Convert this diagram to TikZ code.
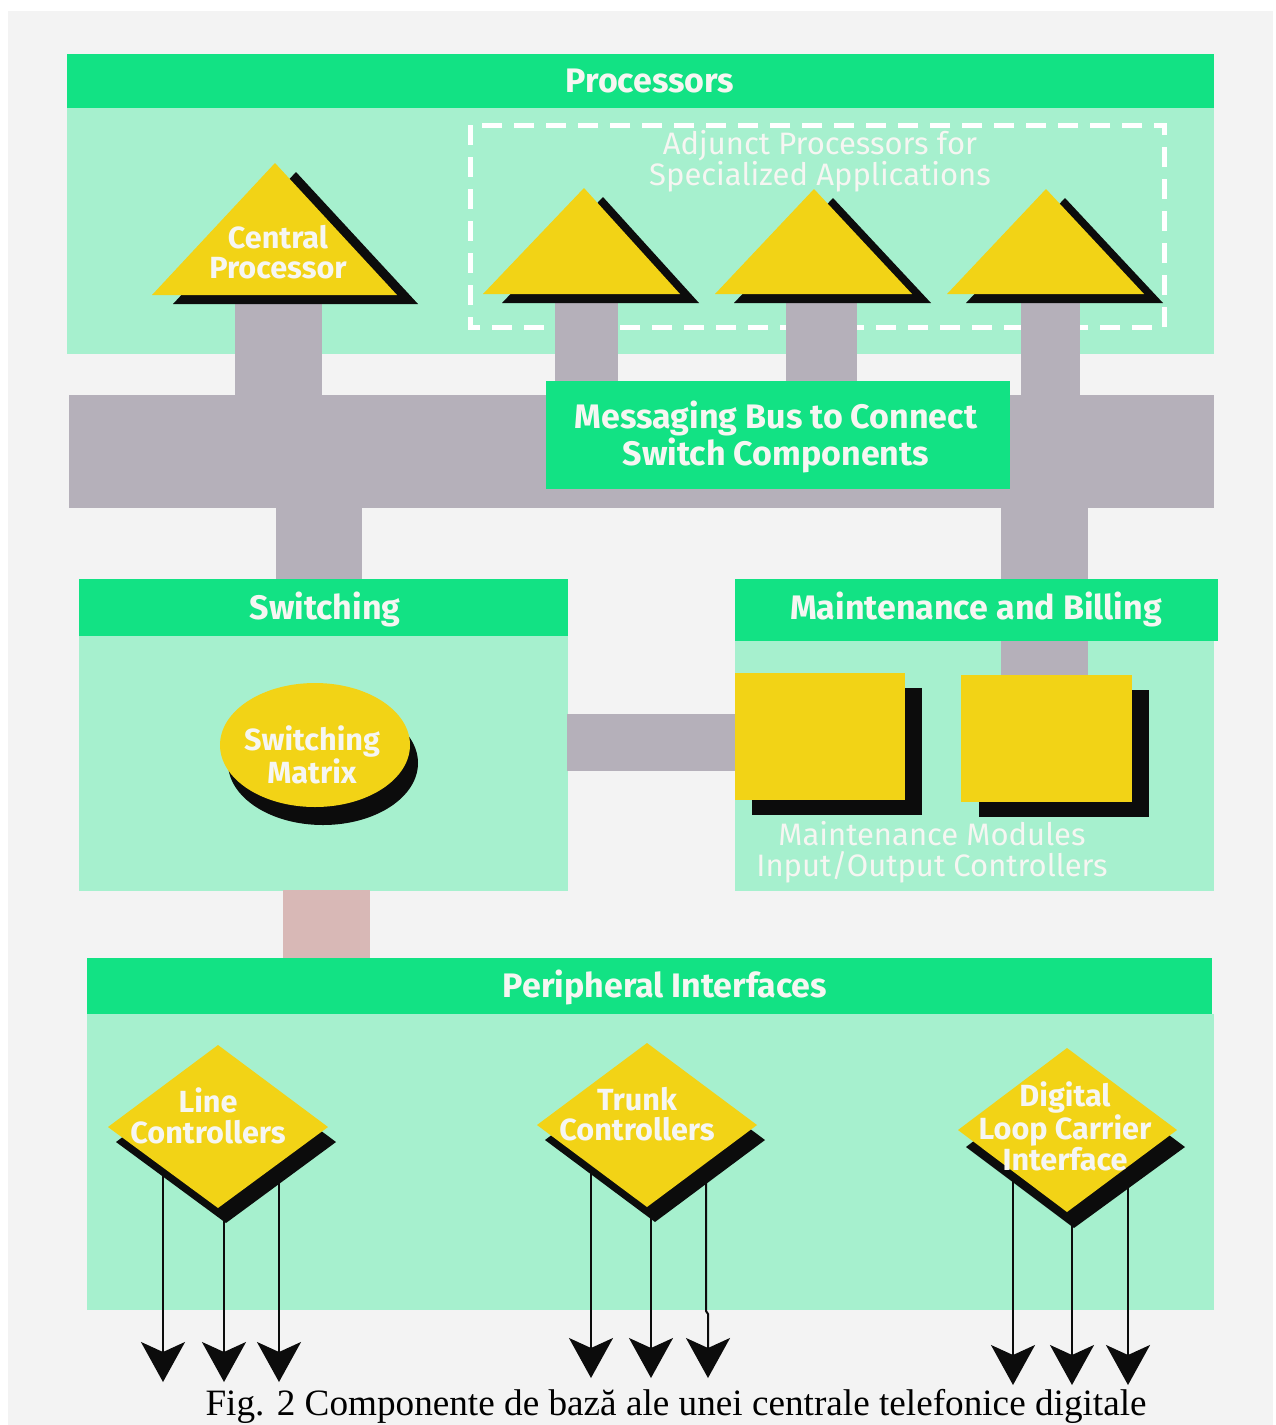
\documentclass[tikz,border=0pt]{standalone}
\usepackage{fontspec}
\setmainfont{Liberation Serif}
\newfontfamily\labfont{Fira Sans}
\usetikzlibrary{arrows.meta}
\definecolor{hdr}{RGB}{18,226,132}
\definecolor{bodyg}{RGB}{166,240,206}
\definecolor{yel}{RGB}{242,211,22}
\definecolor{busg}{RGB}{181,176,186}
\definecolor{pinkg}{RGB}{216,184,182}
\definecolor{panelbg}{RGB}{243,243,243}
\definecolor{shad}{RGB}{12,12,12}
\definecolor{txtw}{RGB}{246,246,242}
\begin{document}
\begin{tikzpicture}[x=0.5pt,y=-0.5pt,
  boldlab/.style={text=txtw, align=center, inner sep=0pt,
    font=\labfont\bfseries\fontsize{15.3}{15.3}\selectfont},
  hdrlab/.style={text=txtw, align=center, inner sep=0pt,
    font=\labfont\bfseries\fontsize{17}{16}\selectfont},
  thinlab/.style={text=txtw, align=center, inner sep=0pt,
    font=\labfont\fontsize{15.5}{15.5}\selectfont},
  hdrfill/.style={fill=hdr},
  bodyfill/.style={fill=bodyg},
  barfill/.style={fill=busg},
  arr/.style={draw=shad, line width=1pt, -{Stealth[length=20pt,width=22pt,inset=5pt]}}]
\useasboundingbox (0,0) rectangle (1275,1425);
\fill[white] (0,0) rectangle (1275,1425);
\fill[panelbg] (8,11) rectangle (1273,1425);

% ---------------- Processors ----------------
\fill[bodyfill] (67,108) rectangle (1214,354);
\fill[hdrfill] (67,54) rectangle (1214,108);
\node[hdrlab] (proc) at (650,81) {Processors};
\draw[white, line width=2.5pt, dash pattern=on 10pt off 6pt] (470,125) rectangle (1164,327);
\node[thinlab] (adj) at (820,161) {Adjunct Processors for\\Specialized Applications};

% vertical bars from processors to bus
\fill[barfill] (235,295) rectangle (322,396);
\fill[barfill] (555,295) rectangle (618,396);
\fill[barfill] (786,295) rectangle (857,396);
\fill[barfill] (1021,295) rectangle (1080,396);

% central processor
\fill[shad] (173,304) -- (296,172) -- (418,304) -- cycle;
\fill[yel] (152,295) coordinate (cpl) -- (275,163) coordinate (cpt) -- (397,295) coordinate (cpr) -- cycle;
\node[boldlab] (cp) at (278,252) {Central\\Processor};
% adjunct processors
\fill[shad] (502,303) -- (603,197) -- (699,303) -- cycle;
\fill[yel] (483,294) -- (584,188) coordinate (ap1) -- (680,294) -- cycle;
\fill[shad] (734,303) -- (833,198) -- (931,303) -- cycle;
\fill[yel] (715,294) -- (814,189) coordinate (ap2) -- (912,294) -- cycle;
\fill[shad] (966,303) -- (1065,198) -- (1163,303) -- cycle;
\fill[yel] (947,294) -- (1046,189) coordinate (ap3) -- (1144,294) -- cycle;

% ---------------- Messaging bus ----------------
\fill[barfill] (69,395) rectangle (1214,508);
\fill[barfill] (276,507) rectangle (362,580);
\fill[hdrfill] (546,381) rectangle (1010,489);
\node[hdrlab] (bus) at (776,437) {Messaging Bus to Connect\\Switch Components};

% ---------------- Switching ----------------
\fill[bodyfill] (79,636) rectangle (568,891);
\fill[hdrfill] (79,579) rectangle (568,636);
\node[hdrlab] (sw) at (325,609) {Switching};
\fill[shad] (323,763) ellipse [x radius=95, y radius=62];
\fill[yel] (315,745) ellipse [x radius=95, y radius=62];
\node[boldlab] (swm) at (312,755) {Switching\\Matrix};

% ---------------- Maintenance and Billing ----------------
\fill[bodyfill] (735,641) rectangle (1214,891);
\fill[barfill] (1001,507) rectangle (1088,676);
\fill[hdrfill] (735,579) rectangle (1218,641);
\node[hdrlab] (mb) at (976,609) {Maintenance and Billing};
\fill[barfill] (567,714) rectangle (736,771);
\fill[shad] (752,688) rectangle (922,815);
\fill[yel] (735,673) rectangle (905,800);
\fill[shad] (979,690) rectangle (1149,817);
\fill[yel] (961,675) rectangle (1132,802);
\node[thinlab] (mm) at (932,852) {Maintenance Modules\\Input/Output Controllers};

% ---------------- Peripheral Interfaces ----------------
\fill[pinkg] (283,890) rectangle (370,959);
\fill[bodyfill] (87,1014) rectangle (1214,1310);
\fill[hdrfill] (87,958) rectangle (1212,1014);
\node[hdrlab] (pi) at (665,987) {Peripheral Interfaces};

% arrow end points
\coordinate (l1) at (163,1382); \coordinate (l2) at (224,1382); \coordinate (l3) at (279,1382);
\coordinate (t1) at (591,1378); \coordinate (t2) at (651,1378); \coordinate (t3) at (708,1378);
\coordinate (d1) at (1013,1385); \coordinate (d2) at (1072,1385); \coordinate (d3) at (1128,1385);
\coordinate (lcc) at (218,1150); \coordinate (tcc) at (647,1150); \coordinate (dlc) at (1067,1150);

\draw[arr] (lcc -| l1) -- (l1);
\draw[arr] (lcc -| l2) -- (l2);
\draw[arr] (lcc -| l3) -- (l3);
\draw[arr] (tcc -| t1) -- (t1);
\draw[arr] (tcc -| t2) -- (t2);
\draw[arr] (706,1150) -- (706,1311) -- (708,1314) -- (t3);
\draw[arr] (dlc -| d1) -- (d1);
\draw[arr] (dlc -| d2) -- (d2);
\draw[arr] (dlc -| d3) -- (d3);

% Line controllers
\fill[shad] (226,1060) -- (336,1142) -- (226,1223) -- (116,1142) -- cycle;
\fill[yel] (218,1045) -- (328,1127) -- (218,1208) -- (108,1127) -- cycle;
\node[boldlab] (lc) at (208,1116) {Line\\Controllers};
% Trunk controllers
\fill[shad] (655,1058) -- (765,1140) -- (655,1222) -- (545,1140) -- cycle;
\fill[yel] (647,1043) -- (757,1125) -- (647,1207) -- (537,1125) -- cycle;
\node[boldlab] (tc) at (637,1114) {Trunk\\Controllers};
% Digital loop carrier interface
\fill[shad] (1074,1064) -- (1185,1147) -- (1074,1228) -- (966,1147) -- cycle;
\fill[yel] (1067,1048) -- (1177,1130) -- (1067,1212) -- (958,1130) -- cycle;
\node[boldlab] (dl) at (1065,1126) {Digital\\Loop Carrier\\Interface};

% caption
\node[font=\fontsize{18.6}{20}\selectfont, inner sep=0pt, anchor=base] (cap) at (676,1415)
  {Fig. 2 Componente de bază ale unei centrale telefonice digitale};
\end{tikzpicture}
\end{document}
